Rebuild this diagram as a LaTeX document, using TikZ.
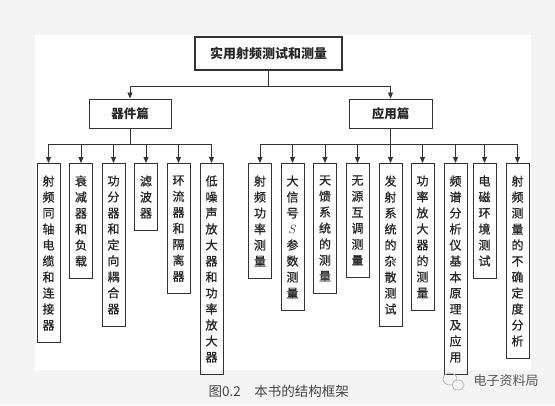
\documentclass[tikz,border=0pt]{standalone}
\usepackage{fontspec}
\newfontfamily\cjk{Noto Sans CJK SC}
\newfontfamily\cjkleaf[FakeBold=0.8]{Noto Sans CJK SC}
\usetikzlibrary{arrows.meta}
\definecolor{pagegray}{RGB}{244,244,244}
\definecolor{linegray}{RGB}{51,51,51}
\definecolor{capgray}{RGB}{70,70,70}
\definecolor{markgray}{RGB}{185,185,185}

\begin{document}
\begin{tikzpicture}[x=1pt,y=-1pt,
    every node/.style={font=\cjk,text=black!85},
    titlebox/.style={draw=linegray,line width=1.2pt,minimum width=147pt,minimum height=33pt,font=\cjk\bfseries\fontsize{13}{15}\selectfont},
    partbox/.style={draw=linegray,line width=1pt,minimum width=82pt,minimum height=29pt,font=\cjk\bfseries\fontsize{12.5}{15}\selectfont},
    leafbox/.style={draw=linegray,line width=1pt,minimum width=23pt,anchor=north,align=center,inner ysep=12pt,inner xsep=0pt,font=\cjkleaf\fontsize{12}{16}\selectfont},
    link/.style={draw=linegray,line width=0.9pt,-{Triangle[length=6pt,width=5pt]}}]
    \fill[pagegray] (0,0) rectangle (555,405);
    \fill[white] (35,35) rectangle (531,370);
    \node[titlebox] (root) at (268.5,53.5) {实用射频测试和测量};
    \node[partbox] (parts) at (130,113.5) {器件篇};
    \node[partbox,minimum width=83pt] (apps) at (390.5,113.5) {应用篇};
    \draw[link] (root.south) -- ++(0,16) -| (parts.north);
    \draw[link] (root.south) -- ++(0,16) -| (apps.north);
    \foreach \x/\t [count=\i] in {48.5/{射\\频\\同\\轴\\电\\缆\\和\\连\\接\\器},
        81/{衰\\减\\器\\和\\负\\载},
        113.5/{功\\分\\器\\和\\定\\向\\耦\\合\\器},
        146/{滤\\波\\器},
        178.5/{环\\流\\器\\和\\隔\\离\\器},
        211.5/{低\\噪\\声\\放\\大\\器\\和\\功\\率\\放\\大\\器}}{
      \node[leafbox] (part\i) at (\x,163) {\t};
      \draw[link] (parts.south) -- ++(0,16) -| (part\i.north);
    }
    \foreach \x/\t [count=\i] in {260/{射\\频\\功\\率\\测\\量},
        292.5/{大\\信\\号\\$S$\\参\\数\\测\\量},
        325/{天\\馈\\系\\统\\的\\测\\量},
        357.5/{无\\源\\互\\调\\测\\量},
        390.5/{发\\射\\系\\统\\的\\杂\\散\\测\\试},
        422.5/{功\\率\\放\\大\\器\\的\\测\\量},
        455.5/{频\\谱\\分\\析\\仪\\基\\本\\原\\理\\及\\应\\用},
        484.5/{电\\磁\\环\\境\\测\\试},
        517.5/{射\\频\\测\\量\\的\\不\\确\\定\\度\\分\\析}}{
      \node[leafbox] (app\i) at (\x,163) {\t};
      \draw[link] (apps.south) -- ++(0,16) -| (app\i.north);
    }
    \node[anchor=west,text=capgray,font=\cjk\fontsize{13.5}{16}\selectfont] (caption) at (205,391) {图0.2\quad 本书的结构框架};
    \draw[markgray,line width=0.8pt] (450,379) ellipse (7 and 6);
    \draw[markgray,line width=0.8pt,fill=pagegray] (458,385) ellipse (6 and 5);
    \node[anchor=west,text=black!65,font=\cjk\fontsize{13}{15}\selectfont] (mark) at (470,381) {电子资料局};
  \end{tikzpicture}
\end{document}
